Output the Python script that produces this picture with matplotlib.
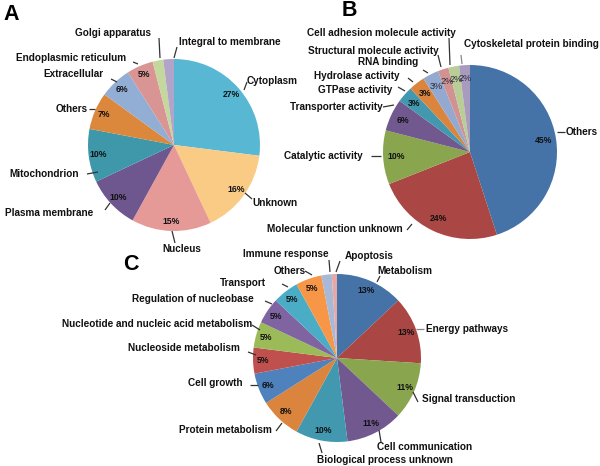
import matplotlib
matplotlib.use("Agg")
import matplotlib.pyplot as plt

plt.rcParams['font.family'] = ['Liberation Sans', 'DejaVu Sans']

W, H = 600, 466

# ---------------- data ----------------
labels_a = ["Cytoplasm", "Unknown", "Nucleus", "Plasma membrane", "Mitochondrion",
            "Others", "Extracellular", "Endoplasmic reticulum", "Golgi apparatus",
            "Integral to membrane"]
values_a = [27, 16, 15, 10, 10, 7, 6, 5, 2, 2]
colors_a = ["#58B8D4", "#F9CB85", "#E69A98", "#6E568E", "#3E98AA", "#DB883C",
            "#93AED4", "#D99594", "#C4D79C", "#B2A3C9"]

labels_b = ["Others", "Molecular function unknown", "Catalytic activity",
            "Transporter activity", "GTPase activity", "Hydrolase activity",
            "RNA binding", "Structural molecule activity",
            "Cell adhesion molecule activity", "Cytoskeletal protein binding"]
values_b = [45, 24, 10, 6, 3, 3, 3, 2, 2, 2]
colors_b = ["#4573A7", "#AA4643", "#89A54E", "#71588F", "#4198AF", "#DB843D",
            "#93A9CF", "#D19392", "#B9CD96", "#A99BBD"]

labels_c = ["Metabolism", "Energy pathways", "Signal transduction", "Cell communication",
            "Biological process unknown", "Protein metabolism", "Cell growth",
            "Nucleoside metabolism", "Nucleotide and nucleic acid metabolism",
            "Regulation of nucleobase", "Transport", "Others", "Immune response",
            "Apoptosis"]
values_c = [13, 13, 11, 11, 10, 8, 6, 5, 5, 5, 5, 5, 2, 1]
colors_c = ["#4572A7", "#AA4643", "#89A54E", "#71588F", "#4198AF", "#DB843D",
            "#4F81BD", "#C0504D", "#9BBB59", "#8064A2", "#4BACC6", "#F79646",
            "#A8B9D8", "#E8A8A6"]

# ---------------- layout (pixel coords, y down) ----------------
pie_layout = {
    "A": dict(center=(174, 145), radius=86, pctdist=0.89, minpct=3),
    "B": dict(center=(470, 152), radius=87, pctdist=0.85, minpct=0),
    "C": dict(center=(337, 358), radius=84, pctdist=0.88, minpct=3),
}

# label text position (x, y, ha) and leader line (x1, y1, x2, y2)
label_pos_a = [(247, 81, 'left'), (252, 203, 'left'), (182, 249, 'center'),
               (93, 213, 'right'), (79, 174, 'right'), (88, 109, 'right'),
               (104, 74, 'right'), (126, 58, 'right'), (113, 33, 'center'),
               (179, 42, 'left')]
lines_a = [(247, 82, 244, 90), (252, 199, 245, 193), (175, 243, 172, 231),
           (105, 210, 110, 203), (87, 174, 98, 172), (89, 109, 95, 109),
           (111, 79, 117, 82), (133, 62, 138, 64), (159, 38, 160, 58),
           (177, 47, 174, 58)]

label_pos_b = [(566, 132, 'left'), (403, 229, 'right'), (363, 156, 'right'),
               (383, 107, 'right'), (392, 90, 'right'), (400, 76, 'right'),
               (418, 62, 'right'), (439, 51, 'right'), (381, 33, 'center'),
               (464, 44, 'left')]
lines_b = [(557, 132, 565, 132), (407, 230, 412, 224), (371, 156, 381, 156),
           (383, 107, 394, 105), (398, 87, 405, 91), (408, 78, 413, 82),
           (423, 70, 428, 73), (438, 55, 441, 67), (449, 38, 450, 65),
           (461, 55, 462, 64)]
line_colors_b = ['#333333'] * 9 + ['#888888']

label_pos_c = [(377, 271, 'left'), (426, 329, 'left'), (422, 399, 'left'),
               (377, 447, 'left'), (317, 460, 'left'), (272, 430, 'right'),
               (243, 383, 'right'), (240, 348, 'right'), (252, 324, 'right'),
               (254, 299, 'right'), (266, 283, 'right'), (306, 271, 'right'),
               (329, 254, 'right'), (345, 256, 'left')]
lines_c = [(380, 276, 377, 282), (416, 329, 424, 329), (413, 392, 418, 402),
           (379, 430, 381, 442), (319, 443, 322, 453), (276, 431, 282, 423),
           (250, 385, 258, 385), (248, 352, 256, 355), (252, 325, 260, 330),
           (265, 301, 272, 304), (282, 284, 288, 287), (305, 271, 312, 275),
           (329, 260, 330, 272), (340, 261, 336, 272)]
line_colors_c = ['#333333', '#888888'] + ['#333333'] * 12

panel_letters = [("A", 3, 15), ("B", 342, 11), ("C", 123, 265)]

LABEL_FS = 7.2
PCT_FS = 6.2


def P(x, y):
    return (x, H - y)


fig = plt.figure(figsize=(6.0, 4.66), dpi=100)
ax = fig.add_axes([0, 0, 1, 1])


def draw_pie(values, colors, lay, pct_styles=None):
    minpct = lay["minpct"]

    def fmt(p):
        return f"{p:.0f}%" if p >= minpct else ""

    wedges, texts, autotexts = ax.pie(
        values, colors=colors, startangle=90, counterclock=False,
        center=P(*lay["center"]), radius=lay["radius"],
        autopct=fmt, pctdistance=lay["pctdist"],
        wedgeprops=dict(linewidth=0, edgecolor='none'),
        textprops=dict(fontsize=PCT_FS, fontweight='bold', color='#111111'))
    if pct_styles:
        for t, st in zip(autotexts, pct_styles):
            if st:
                t.set(**st)
    return wedges


def draw_labels(labels, pos, lines, line_colors=None):
    for i, (lab, (x, y, ha)) in enumerate(zip(labels, pos)):
        ax.text(*P(x, y), lab, ha=ha, va='center', fontsize=LABEL_FS,
                fontweight='bold', color='#111111')
        x1, y1, x2, y2 = lines[i]
        c = line_colors[i] if line_colors else '#333333'
        ax.plot([x1, x2], [H - y1, H - y2], color=c, lw=0.9,
                solid_capstyle='butt')


draw_pie(values_a, colors_a, pie_layout["A"])
draw_labels(labels_a, label_pos_a, lines_a)

small_style = dict(fontweight='normal', fontsize=6.6, color='#2b2b3a')
pct_styles_b = [None] * 6 + [small_style] * 4
draw_pie(values_b, colors_b, pie_layout["B"], pct_styles_b)
draw_labels(labels_b, label_pos_b, lines_b, line_colors_b)

draw_pie(values_c, colors_c, pie_layout["C"])
draw_labels(labels_c, label_pos_c, lines_c, line_colors_c)

for letter, x, y in panel_letters:
    ax.text(*P(x, y), letter, ha='left', va='center', fontsize=15.5,
            fontweight='bold', color='black')

ax.set_xlim(0, W)
ax.set_ylim(0, H)
ax.set_aspect('equal')
ax.axis('off')

fig.savefig("out.png", dpi=100, facecolor='white')
